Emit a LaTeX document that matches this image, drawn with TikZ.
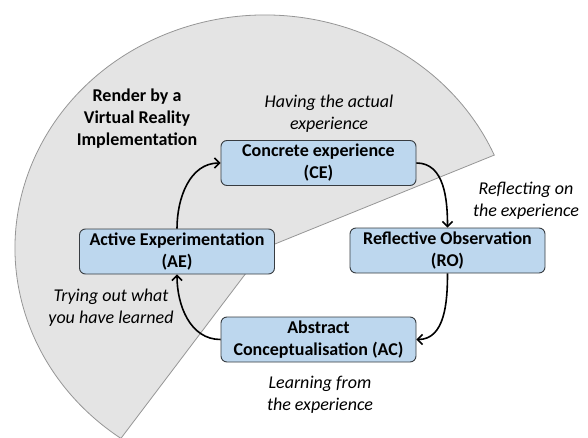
\documentclass[tikz,border=0pt]{standalone}
\usepackage{fontspec}
\setmainfont{Carlito}
\usetikzlibrary{arrows.meta,calc}
\definecolor{sectorfill}{RGB}{228,228,228}
\definecolor{sectoredge}{RGB}{150,150,150}
\definecolor{boxfill}{RGB}{189,215,238}
\definecolor{boxedge}{RGB}{55,60,65}
\tikzset{
  stage/.style={draw=boxedge, line width=0.9pt, fill=boxfill, rounded corners=6pt,
    minimum width=195pt, minimum height=45pt, inner sep=0pt, align=center,
    font=\fontsize{18}{22}\selectfont\bfseries},
  note/.style={align=center, inner sep=0pt, font=\fontsize{18}{22}\selectfont\itshape},
  title/.style={align=center, inner sep=0pt, font=\fontsize{18}{22}\selectfont\bfseries},
  flow/.style={line width=1.6pt, -{Straight Barb[length=5pt,width=10pt,line width=1.6pt]}},
}
\begin{document}
\begin{tikzpicture}[x=1pt,y=1pt]
  \useasboundingbox (0,0) rectangle (588,437);
  \clip (0,0) rectangle (588,437);
  % elliptical sector marking the virtual reality part of the cycle
  \coordinate (ctr) at (265,189);
  \filldraw[fill=sectorfill, draw=sectoredge, line width=0.8pt]
    (ctr) -- ($(ctr)+(23.5:250pt and 233pt)$) arc[start angle=23.5, end angle=234.8, x radius=250pt, y radius=233pt] -- cycle;

  \node[title] (vr) at (137,318.5) {Render by a\\Virtual Reality\\Implementation};

  % the four stages
  \node[stage] (CE) at (318.5,274) {Concrete experience\\(CE)};
  \node[stage] (RO) at (447.5,186.5) {Reflective Observation\\(RO)};
  \node[stage] (AC) at (318.5,97.5) {Abstract\\Conceptualisation (AC)};
  \node[stage] (AE) at (177,185.5) {Active Experimentation\\(AE)};

  % descriptions
  \node[note] (nCE) at (329,323.5) {Having the actual\\experience};
  \node[note] (nRO) at (526,236.5) {Reflecting on\\the experience};
  \node[note] (nAC) at (320,42.5) {Learning from\\the experience};
  \node[note] (nAE) at (111,129.5) {Trying out what\\you have learned};

  % cycle
  \draw[flow] (AE.north) to[out=90,in=180] (CE.west);
  \draw[flow] (CE.east) to[out=0,in=90] (RO.north);
  \draw[flow] (RO.south) to[out=-90,in=0] (AC.east);
  \draw[flow] (AC.west) to[out=180,in=-90] (AE.south);
\end{tikzpicture}
\end{document}
